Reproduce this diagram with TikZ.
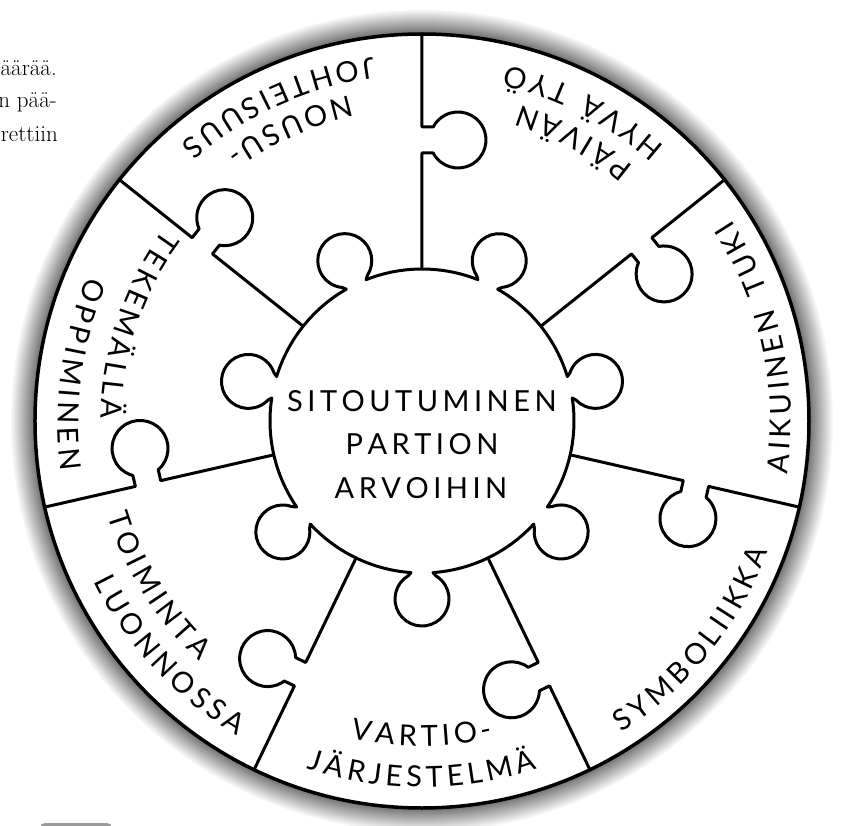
\documentclass[tikz,border=0pt]{standalone}
\usepackage{fontspec}
\newfontfamily\latofam{Lato}
\newcommand\labfont{\latofam\fontsize{29pt}{34pt}\selectfont}
\makeatletter
\newlength\at@cum
\newlength\at@w
\newsavebox\at@box
\newlength\at@ls \setlength\at@ls{4.5pt}
\newlength\at@ws \setlength\at@ws{14pt}
\newif\ifat@place
\newif\ifat@arc
\def\at@end{\at@end@}
\def\wsp{\wsp@}
\def\at@loop#1{%
  \ifx#1\at@end
    \let\at@next\relax
  \else
    \at@do{#1}%
    \let\at@next\at@loop
  \fi
  \at@next}
\def\at@do#1{%
  \ifx#1\wsp
    \global\advance\at@cum by \at@ws
  \else
    \setbox\at@box=\hbox{\pgfinterruptpicture\csname pgf@selectfontorig\endcsname\labfont #1\endpgfinterruptpicture}%
    \global\at@w=\wd\at@box
    \ifat@place
      \pgfmathsetmacro\at@pos{\at@cum+0.5*\at@w}%
      \ifat@arc
        \pgfmathsetmacro\at@ang{\at@start+\at@pos/\at@rad*57.29578}%
        \node[rotate=\at@ang+90,anchor=base,inner sep=0pt,font=\labfont] at (\at@ang:\at@rad) {#1};%
      \else
        \pgfmathsetmacro\at@x{\at@start+\at@pos}%
        \node[anchor=base,inner sep=0pt,font=\labfont] at (\at@x,\at@rad) {#1};%
      \fi
    \fi
    \global\advance\at@cum by \at@w
    \global\advance\at@cum by \at@ls
  \fi}
\newcommand\arctext[3]{%
  \at@arctrue
  \def\at@rad{#1}%
  \at@placefalse\global\at@cum=0pt
  \at@loop#3\at@end
  \global\advance\at@cum by -\at@ls
  \pgfmathsetmacro\at@start{#2-0.5*\at@cum/#1*57.29578}%
  \at@placetrue\global\at@cum=0pt
  \at@loop#3\at@end}
\newcommand\linetext[3]{%
  \at@arcfalse
  \def\at@rad{#2}%
  \at@placefalse\global\at@cum=0pt
  \at@loop#3\at@end
  \global\advance\at@cum by -\at@ls
  \pgfmathsetmacro\at@start{#1-0.5*\at@cum}%
  \at@placetrue\global\at@cum=0pt
  \at@loop#3\at@end}
\makeatother
\begin{document}
\begin{tikzpicture}[x=1pt,y=1pt,line join=round,
  pl/.style={line width=3pt,line join=round},
  frag/.style={anchor=base east,inner sep=0pt,font=\fontsize{23pt}{28pt}\selectfont}]
\useasboundingbox (-422,-404) rectangle (419,421);
% fragments of the surrounding page
\node[frag] (f1) at (-365,345) {äärää.};
\node[frag] (f2) at (-365,313) {n pää-};
\node[frag] (f3) at (-364,279) {rettiin};
\fill[black!40,rounded corners=5pt] (-382,-402) rectangle (-310,-440);
% shadow ring
\foreach \i in {24,...,1}{
  \pgfmathtruncatemacro\pc{3+2.3*(24-\i)}
  \fill[black!\pc] (0,0) circle[radius={387+\i}];
}
\fill[white] (0,0) circle[radius=387];
\draw[line width=3.5pt] (0,0) circle[radius=387];
% dividers with puzzle knobs
\foreach \t in {0,...,6}{
  \begin{scope}[rotate={90+\t*51.42857}]
    \draw[pl] (152,0) -- (268,0) -- (268,-11.2)
      arc[start angle=117.7,end angle=422.3,radius=28] -- (294,0) -- (387,0);
  \end{scope}
}
% hub with seven knobs
\draw[pl] ({270-4.15}:152)
  \foreach \k in {0,...,6}{
    -- ({270+\k*51.42857-5.13}:155.48)
    arc[start angle={270+\k*51.42857+211},end angle={270+\k*51.42857+509},radius=27]
    -- ({270+\k*51.42857+4.15}:152)
    arc[start angle={270+\k*51.42857+4.15},end angle={270+(\k+1)*51.42857-4.15},radius=152]
  } -- cycle;
% centre text
\linetext{0}{10}{SITOUTUMINEN}
\linetext{0}{-33}{PARTION}
\linetext{-1}{-77}{ARVOIHIN}
% sector labels
\arctext{325}{270}{VARTIO-}
\arctext{366}{270}{JÄRJESTELMÄ}
\arctext{370}{321}{SYMBOLIIKKA}
\arctext{369}{12.3}{AIKUINEN\wsp TUKI}
\arctext{331}{61.5}{PÄIVÄN}
\arctext{366}{62.5}{HYVÄ\wsp TYÖ}
\arctext{333}{114.4}{NOUSU-}
\arctext{367}{114.4}{JOHTEISUUS}
\arctext{321}{161.5}{TEKEMÄLLÄ}
\arctext{364}{172.3}{OPPIMINEN}
\arctext{328}{212}{TOIMINTA}
\arctext{365}{222.8}{LUONNOSSA}
\end{tikzpicture}
\end{document}
